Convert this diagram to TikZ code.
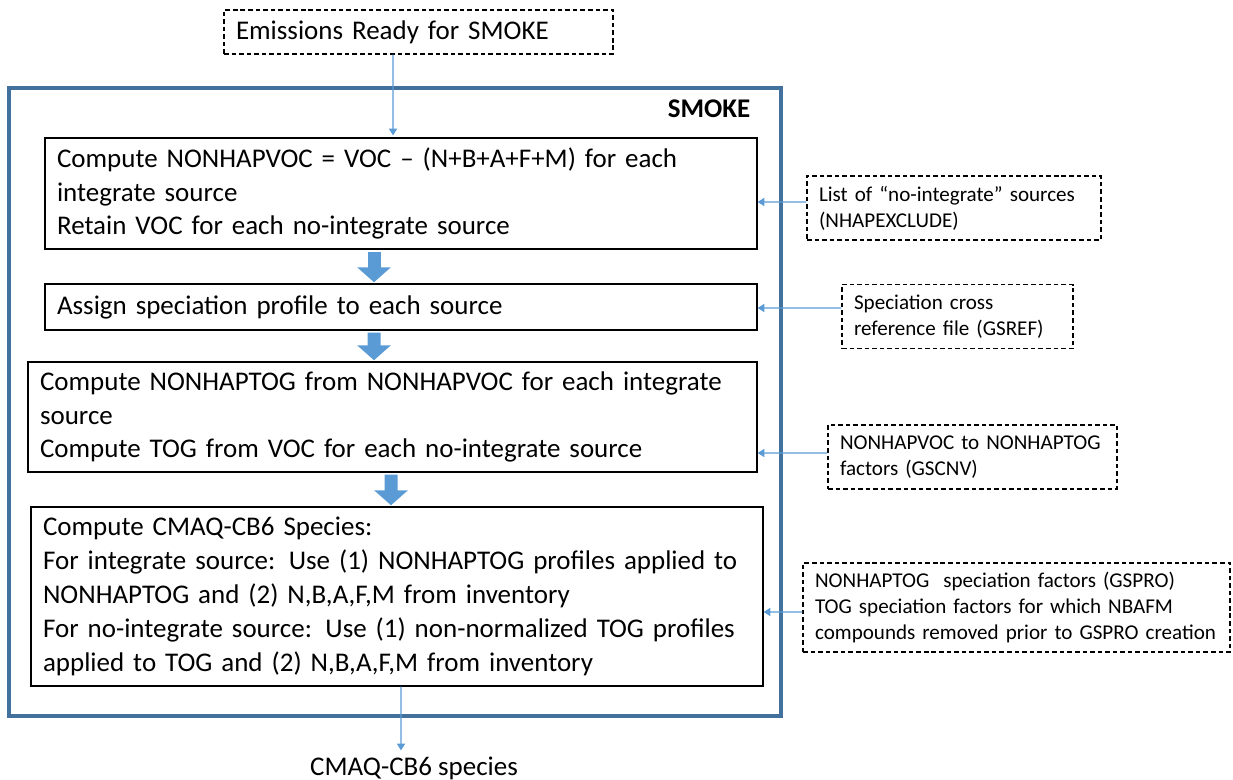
\documentclass[tikz,border=0pt]{standalone}
\usepackage{fontspec}
\setmainfont{Carlito}
\usetikzlibrary{arrows.meta}

\definecolor{smokeblue}{RGB}{65,113,156}
\definecolor{arrowblue}{RGB}{91,155,213}
\newcommand{\bigtext}{\fontsize{15.35}{19.3}\selectfont}
\newcommand{\smalltext}{\fontsize{12}{14.8}\selectfont}

\begin{document}
\begin{tikzpicture}[x=0.02cm,y=-0.02cm]
\tikzstyle{proc}=[draw, line width=0.8pt, align=left, font=\bigtext, inner xsep=0.24cm, inner ysep=0pt]
\tikzstyle{infile}=[draw, dash pattern=on 2.6pt off 1.7pt, line width=0.7pt, align=left, font=\smalltext, inner xsep=0.24cm, inner ysep=0pt, minimum height=1.28cm]
\tikzstyle{feed}=[draw=arrowblue, line width=0.6pt, -{Triangle[width=4.6pt,length=3.8pt]}]
\tikzstyle{fat}=[line width=7.4pt, draw=arrowblue, -{Triangle[width=18.7pt,length=8.5pt]}, shorten <=1.1pt, shorten >=0.6pt]

\useasboundingbox (0,0) rectangle (1233,780);

% SMOKE frame
\draw[smokeblue, line width=2pt] (9,88) rectangle (781,716);
\node[font=\bigtext\bfseries] (smoke) at (709,109) {SMOKE};

% input and output
\node[proc, dash pattern=on 2.6pt off 1.7pt, line width=0.7pt, text width=7.3cm, minimum height=0.88cm] (emis) at (418.5,32) {Emissions Ready for SMOKE};
\node[font=\bigtext] (out) at (414,768) {CMAQ-CB6 species};

% processing steps
\node[proc, text width=13.76cm, minimum height=2.22cm] (p1) at (401,193.5) {Compute NONHAPVOC = VOC – (N+B+A+F+M) for each\\integrate source\\Retain VOC for each no-integrate source};
\node[proc, text width=13.76cm, minimum height=0.92cm] (p2) at (401,307) {Assign speciation profile to each source};
\node[proc, text width=14.1cm, minimum height=2.2cm] (p3) at (392.5,417) {Compute NONHAPTOG from NONHAPVOC for each integrate\\source\\Compute TOG from VOC for each no-integrate source};
\node[proc, text width=14.16cm, minimum height=3.58cm] (p4) at (397,596.5) {Compute CMAQ-CB6 Species:\\For integrate source: Use (1) NONHAPTOG profiles applied to\\NONHAPTOG and (2) N,B,A,F,M from inventory\\For no-integrate source: Use (1) non-normalized TOG profiles\\applied to TOG and (2) N,B,A,F,M from inventory};

% input files
\node[infile, text width=5.4cm] (d1) at (954,208) {List of “no-integrate” sources\\(NHAPEXCLUDE)};
\node[infile, text width=4.14cm] (d2) at (957.5,316.5) {Speciation cross\\reference file (GSREF)};
\node[infile, text width=5.3cm] (d3) at (972.5,457) {NONHAPVOC to NONHAPTOG\\factors (GSCNV)};
\node[infile, text width=8.06cm, minimum height=1.78cm] (d4) at (1016.5,607.5) {NONHAPTOG\ \ speciation factors (GSPRO)\\TOG speciation factors for which NBAFM\\compounds removed prior to GSPRO creation};

% flow
\draw[fat] ([xshift=-0.54cm]p1.south) -- ([xshift=-0.54cm]p2.north);
\draw[fat] ([xshift=-0.54cm]p2.south) -- ([xshift=-0.37cm]p3.north);
\draw[fat] ([xshift=-0.03cm]p3.south) -- ([xshift=-0.12cm]p4.north);

\draw[feed, shorten >=1.1pt] ([xshift=-0.51cm]emis.south) -- ([xshift=-0.16cm]p1.north);
\draw[feed] ([xshift=0.08cm]p4.south) -- ([xshift=-0.26cm]out.north);

\draw[feed] ([yshift=0.12cm]d1.west) -- ([yshift=-0.17cm]p1.east);
\draw[feed] ([yshift=0.17cm]d2.west) -- ([yshift=-0.02cm]p2.east);
\draw[feed] ([yshift=0.08cm]d3.west) -- ([yshift=-0.72cm]p3.east);
\draw[feed] ([yshift=-0.09cm]d4.west) -- ([yshift=-0.31cm]p4.east);
\end{tikzpicture}
\end{document}
